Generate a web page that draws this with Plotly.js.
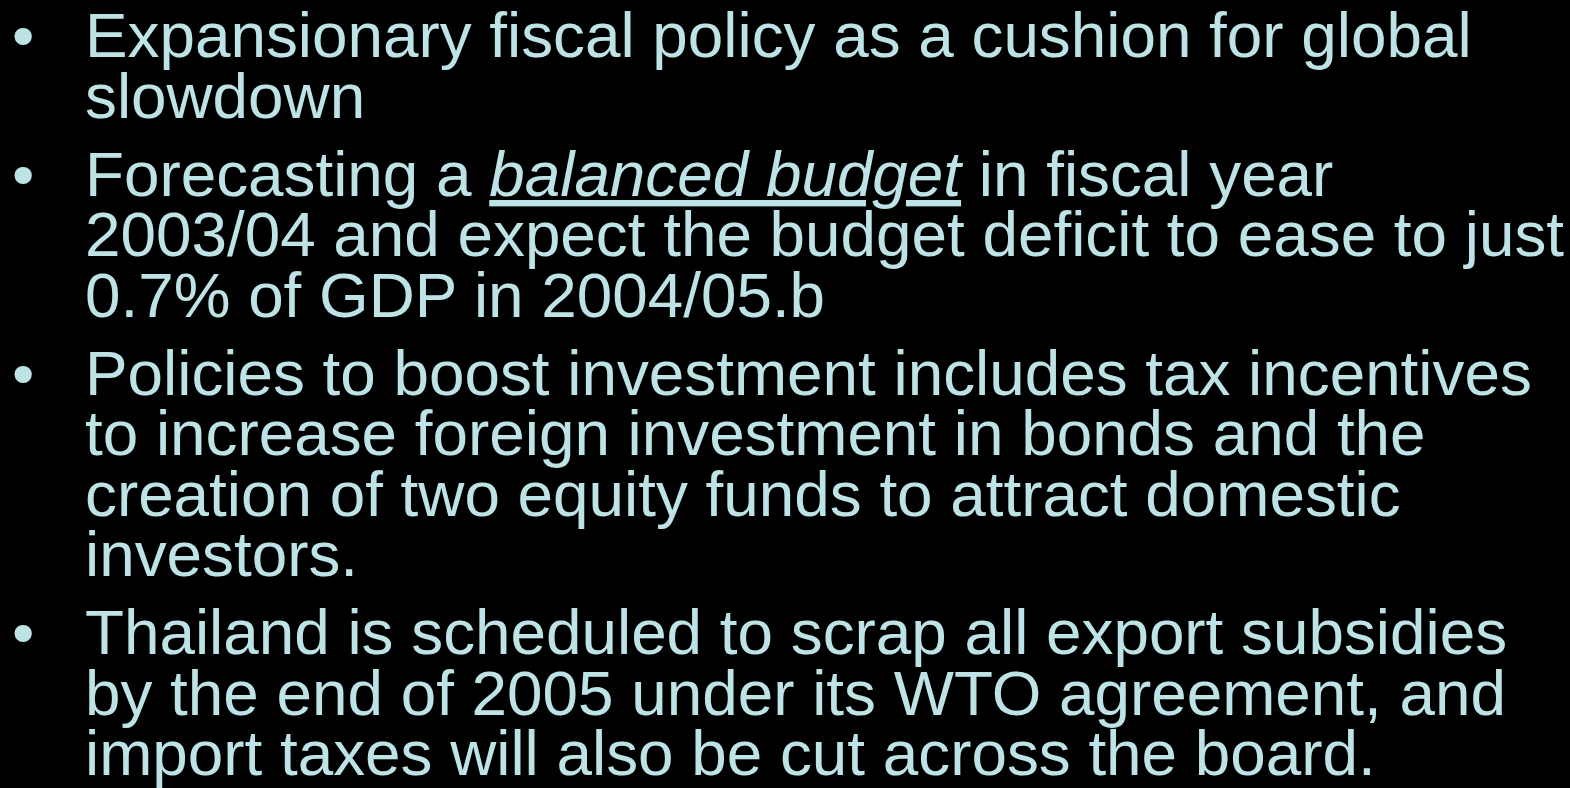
<!DOCTYPE html>
<html>
<head>
<meta charset="utf-8">
<script src="https://cdn.plot.ly/plotly-3.0.1.min.js"></script>
<style>
  html, body { margin: 0; padding: 0; background: #000; }
  #chart { width: 1570px; height: 788px; }
</style>
</head>
<body>
<div id="chart"></div>
<script>
// Slide content: one array of text lines per bullet
const bullet1 = [
  "Expansionary fiscal policy as a cushion for global",
  "slowdown"
];
const bullet2 = [
  "Forecasting a <i><u>balanced budget</u></i> in fiscal year",
  "2003/04 and expect the budget deficit to ease to just",
  "0.7% of GDP in 2004/05.b"
];
const bullet3 = [
  "Policies to boost investment includes tax incentives",
  "to increase foreign investment in bonds and the",
  "creation of two equity funds to attract domestic",
  "investors."
];
const bullet4 = [
  "Thailand is scheduled to scrap all export subsidies",
  "by the end of 2005 under its WTO agreement, and",
  "import taxes will also be cut across the board."
];
const bullets = [bullet1, bullet2, bullet3, bullet4];
const bulletMark = "•";

// Layout constants (pixels)
const W = 1570, H = 788;
const fontSize = 63.8;
const textColor = "#bee3e6";
const fontFamily = "Liberation Sans, Arial, sans-serif";
const firstBaseline = 57.5;
const linePitch = 60.5;
const bulletExtra = 17.5;
const textLeft = 84;
const bulletLeft = 11;
const midOffset = fontSize * 0.3465; // baseline -> middle of text box

const annotations = [];
let lineIdx = 0;
bullets.forEach((lines, k) => {
  lines.forEach((txt, j) => {
    const baseline = firstBaseline + lineIdx * linePitch + k * bulletExtra;
    const yMid = baseline - midOffset;
    if (j === 0) {
      annotations.push({
        xref: "x", yref: "y", x: bulletLeft, y: yMid,
        xanchor: "left", yanchor: "middle", showarrow: false,
        text: bulletMark, borderpad: 0,
        font: { family: fontFamily, size: fontSize, color: textColor }
      });
    }
    annotations.push({
      xref: "x", yref: "y", x: textLeft, y: yMid,
      xanchor: "left", yanchor: "middle", showarrow: false,
      text: txt, borderpad: 0,
      font: { family: fontFamily, size: fontSize, color: textColor }
    });
    lineIdx++;
  });
});

const layout = {
  width: W, height: H,
  margin: { l: 0, r: 0, t: 0, b: 0, pad: 0 },
  paper_bgcolor: "#000000",
  plot_bgcolor: "#000000",
  showlegend: false,
  xaxis: { range: [0, W], visible: false, fixedrange: true },
  yaxis: { range: [H, 0], visible: false, fixedrange: true },
  annotations: annotations
};

Plotly.newPlot("chart", [], layout, { displayModeBar: false, staticPlot: true });
</script>
</body>
</html>
